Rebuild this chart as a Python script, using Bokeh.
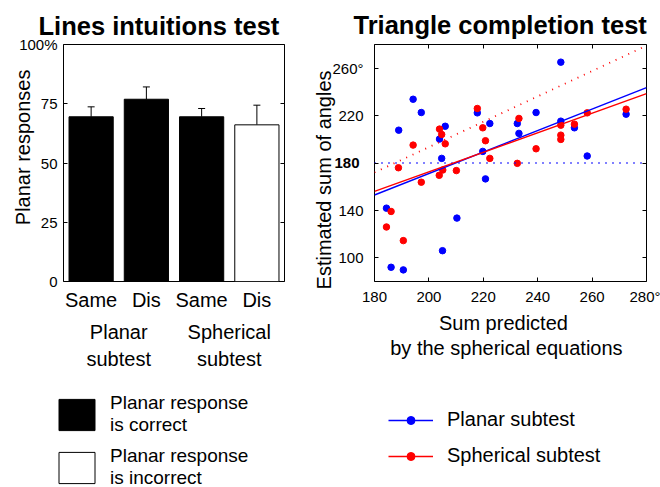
from bokeh.plotting import figure
from bokeh.models import (Range1d, FixedTicker, LinearAxis, Whisker, TeeHead,
                          Legend, LegendItem, ColumnDataSource, CustomLabelingPolicy)
from bokeh.layouts import column, row
from bokeh.embed import file_html
from bokeh.resources import INLINE

FONT = "Liberation Sans"

# ---------------- Left chart: Lines intuitions test ----------------
bar_positions = [1, 2, 3, 4]
bar_tick_labels = ["Same", "Dis", "Same", "Dis"]
bar_values = [69.5, 76.9, 69.5, 66.1]
bar_upper = [73.7, 82.1, 73.0, 74.4]
bar_fill = ["black", "black", "black", "white"]
group_positions = [1.5, 3.5]
group_line1 = ["Planar", "Spherical"]
group_line2 = ["subtest", "subtest"]
pct_ticks = [0, 25, 50, 75, 100]
pct_labels = ["0", "25", "50", "75", "100%"]
left_title = "Lines intuitions test"
left_ylabel = "Planar responses"

# ---------------- Right chart: Triangle completion test ----------------
planar_x = [194.2, 197.2, 188.9, 206.0, 203.9, 204.7, 184.4, 210.3, 205.0, 186.1, 190.6,
            217.8, 222.4, 219.8, 220.8, 232.5, 233.1, 239.4, 248.5, 248.5, 253.5, 258.2, 272.5]
planar_y = [233.8, 222.6, 207.7, 211.0, 200.2, 183.9, 141.9, 133.5, 106.0, 92.0, 89.8,
            222.3, 213.3, 189.8, 166.6, 213.3, 205.0, 222.6, 265.1, 215.3, 209.7, 185.9, 221.2]
spherical_x = [203.9, 204.7, 206.0, 194.2, 188.8, 205.1, 203.8, 210.1, 197.2, 186.1, 184.4, 190.6,
               217.8, 219.8, 220.8, 222.4, 233.1, 232.5, 239.4, 248.5, 248.5, 248.5, 253.5, 258.2, 272.5]
spherical_y = [208.6, 204.1, 196.2, 195.1, 176.0, 174.1, 169.6, 173.6, 163.8, 139.1, 126.0, 114.5,
               226.0, 209.7, 198.8, 183.9, 217.6, 179.7, 192.0, 211.9, 203.5, 199.9, 212.8, 222.3, 225.4]
line_x = [180, 280]
planar_prediction_y = [180, 180]
spherical_prediction_y = [172, 279]
planar_fit_y = [153, 243.6]
spherical_fit_y = [156, 238.6]
tri_x_ticks = [180, 200, 220, 240, 260, 280]
tri_x_labels = ["180", "200", "220", "240", "260", "280°"]
tri_y_ticks = [100, 140, 180, 220, 260]
tri_y_labels = ["100", "140", "180", "220", "260°"]
tri_y_bold_tick = [180]
tri_y_bold_label = ["180"]
right_title = "Triangle completion test"
right_ylabel = "Estimated sum of angles"
right_xlabel1 = "Sum predicted"
right_xlabel2 = "by the spherical equations"

legend_labels_bars = ["Planar response\nis correct", "Planar response\nis incorrect"]
legend_labels_series = ["Planar subtest", "Spherical subtest"]
legend_placeholder = [-10]   # legend-swatch renderers sit outside the legend panel's range

BLUE = "#0000ff"
RED = "#ff0000"

hide_labels = CustomLabelingPolicy(code="""
for (const i of indices)
    indices.unset(i)
return indices
""")
# the 180 label is drawn in bold by its own axis, so the regular axis skips it (index 2)
skip_180 = CustomLabelingPolicy(code="""
indices.unset(2)
return indices
""")


def tick_axis(ticks, labels=None, font_size="15px", standoff=6, show_labels=True):
    ax = LinearAxis(ticker=FixedTicker(ticks=ticks, minor_ticks=[]))
    ax.major_tick_in = 4
    ax.major_tick_out = 0
    ax.minor_tick_in = 0
    ax.minor_tick_out = 0
    ax.axis_line_color = None
    ax.major_tick_line_color = "black"
    if show_labels:
        if labels is not None:
            ax.major_label_overrides = {t: l for t, l in zip(ticks, labels)}
        ax.major_label_text_font = FONT
        ax.major_label_text_font_size = font_size
        ax.major_label_text_color = "black"
        ax.major_label_standoff = standoff
    else:
        ax.major_label_policy = hide_labels
        ax.major_label_text_font_size = "0px"
        ax.major_label_standoff = 0
    return ax


def text_axis(ticks, labels, font_size="20px", standoff=10, orientation="horizontal",
              bold=False):
    ax = LinearAxis(ticker=FixedTicker(ticks=ticks, minor_ticks=[]))
    ax.major_label_overrides = {t: l for t, l in zip(ticks, labels)}
    ax.major_tick_in = 0
    ax.major_tick_out = 0
    ax.minor_tick_in = 0
    ax.minor_tick_out = 0
    ax.axis_line_color = None
    ax.major_label_text_font = FONT
    ax.major_label_text_font_size = font_size
    ax.major_label_text_color = "black"
    ax.major_label_standoff = standoff
    ax.major_label_orientation = orientation
    if bold:
        ax.major_label_text_font_style = "bold"
    return ax


def style_title(p, offset, standoff):
    p.title.align = "left"
    p.title.offset = offset
    p.title.text_font = FONT
    p.title.text_font_size = "25.5px"
    p.title.text_font_style = "bold"
    p.title.text_color = "black"
    p.title.standoff = standoff


# ---------------- Figure A ----------------
pA = figure(width=300, height=380, output_backend="svg", toolbar_location=None,
            x_range=Range1d(0.5, 4.5), y_range=Range1d(0, 100),
            x_axis_location=None, y_axis_location=None,
            min_border_left=63, min_border_right=16, min_border_top=42, min_border_bottom=99,
            title=left_title)
pA.grid.visible = False
pA.outline_line_color = "black"
pA.outline_line_alpha = 1
pA.outline_line_width = 1
style_title(pA, -25, 10)

pA.vbar(x=bar_positions, top=bar_values, bottom=0, width=0.8,
        fill_color=bar_fill, line_color="black", line_width=1)
err_src = ColumnDataSource(dict(base=bar_positions, lower=bar_values, upper=bar_upper))
pA.add_layout(Whisker(base="base", lower="lower", upper="upper", source=err_src,
                      line_color="black", line_width=1, lower_head=None,
                      upper_head=TeeHead(size=7, line_color="black", line_width=1)))

pA.add_layout(tick_axis(pct_ticks, pct_labels, font_size="15px", standoff=6), "left")
pA.add_layout(text_axis([56.6], [left_ylabel], standoff=-18, orientation="vertical"), "left")
pA.add_layout(tick_axis(pct_ticks, show_labels=False), "right")
pA.add_layout(text_axis(bar_positions, bar_tick_labels, standoff=7), "below")
pA.add_layout(text_axis(group_positions, group_line1, standoff=7), "below")
pA.add_layout(text_axis(group_positions, group_line2, standoff=2), "below")

# ---------------- Figure B ----------------
pB = figure(width=360, height=380, output_backend="svg", toolbar_location=None,
            x_range=Range1d(180, 280), y_range=Range1d(80, 280),
            x_axis_location=None, y_axis_location=None,
            min_border_left=74, min_border_right=14, min_border_top=44, min_border_bottom=98,
            title=right_title)
pB.grid.visible = False
pB.outline_line_color = "black"
pB.outline_line_alpha = 1
pB.outline_line_width = 1
style_title(pB, -21, 12)

y_axis_main = tick_axis(tri_y_ticks, tri_y_labels, font_size="15px", standoff=11)
y_axis_main.major_label_policy = skip_180
pB.add_layout(y_axis_main, "left")
pB.add_layout(text_axis(tri_y_bold_tick, tri_y_bold_label, font_size="15px", standoff=-30,
                        bold=True), "left")
pB.add_layout(text_axis([165.7], [right_ylabel], standoff=-6, orientation="vertical"), "left")
pB.add_layout(tick_axis(tri_y_ticks, show_labels=False), "right")
pB.add_layout(tick_axis(tri_x_ticks, tri_x_labels, font_size="15px", standoff=6), "below")
pB.add_layout(text_axis([227.4], [right_xlabel1], standoff=4), "below")
pB.add_layout(text_axis([228.5], [right_xlabel2], standoff=0), "below")
pB.add_layout(tick_axis(tri_x_ticks, show_labels=False), "above")

pB.scatter(x=planar_x, y=planar_y, size=6.5, color=BLUE)
pB.scatter(x=spherical_x, y=spherical_y, size=6.5, color=RED)
pB.line(x=line_x, y=planar_prediction_y, color=BLUE, line_width=1.8, line_dash="1 6")
pB.line(x=line_x, y=spherical_prediction_y, color=RED, line_width=1.8, line_dash="1 6")
pB.line(x=line_x, y=planar_fit_y, color=BLUE, line_width=1.4)
pB.line(x=line_x, y=spherical_fit_y, color=RED, line_width=1.4)

# ---------------- Legends ----------------
pC = figure(width=660, height=107, output_backend="svg", toolbar_location=None,
            x_range=Range1d(0, 1), y_range=Range1d(0, 1),
            x_axis_location=None, y_axis_location=None,
            min_border_left=0, min_border_right=0, min_border_top=0, min_border_bottom=0)
pC.grid.visible = False
pC.outline_line_color = None

r_correct = pC.vbar(x=legend_placeholder, top=legend_placeholder, width=0.5,
                    fill_color="black", line_color="black")
r_incorrect = pC.vbar(x=legend_placeholder, top=legend_placeholder, width=0.5,
                      fill_color="white", line_color="black")
r_pl_line = pC.line(x=legend_placeholder, y=legend_placeholder, color=BLUE, line_width=1.6)
r_pl_dot = pC.scatter(x=legend_placeholder, y=legend_placeholder, color=BLUE, size=6)
r_sp_line = pC.line(x=legend_placeholder, y=legend_placeholder, color=RED, line_width=1.6)
r_sp_dot = pC.scatter(x=legend_placeholder, y=legend_placeholder, color=RED, size=6)

leg1 = Legend(items=[LegendItem(label=legend_labels_bars[0], renderers=[r_correct]),
                     LegendItem(label=legend_labels_bars[1], renderers=[r_incorrect])],
              location=(54, -2), glyph_width=45, glyph_height=39, label_standoff=11,
              label_text_font=FONT, label_text_font_size="19px", label_text_line_height=1.15,
              label_text_color="black",
              padding=0, margin=0, spacing=9, border_line_color=None, background_fill_alpha=0)
leg2 = Legend(items=[LegendItem(label=legend_labels_series[0], renderers=[r_pl_line, r_pl_dot]),
                     LegendItem(label=legend_labels_series[1], renderers=[r_sp_line, r_sp_dot])],
              location=(388, 20), glyph_width=45, glyph_height=20, label_standoff=14,
              label_height=20, label_text_color="black",
              label_text_font=FONT, label_text_font_size="20px",
              padding=0, margin=0, spacing=13, border_line_color=None, background_fill_alpha=0)
pC.add_layout(leg1)
pC.add_layout(leg2)

layout = column(row(pA, pB), pC)
open("out.html", "w").write(file_html(layout, INLINE))
